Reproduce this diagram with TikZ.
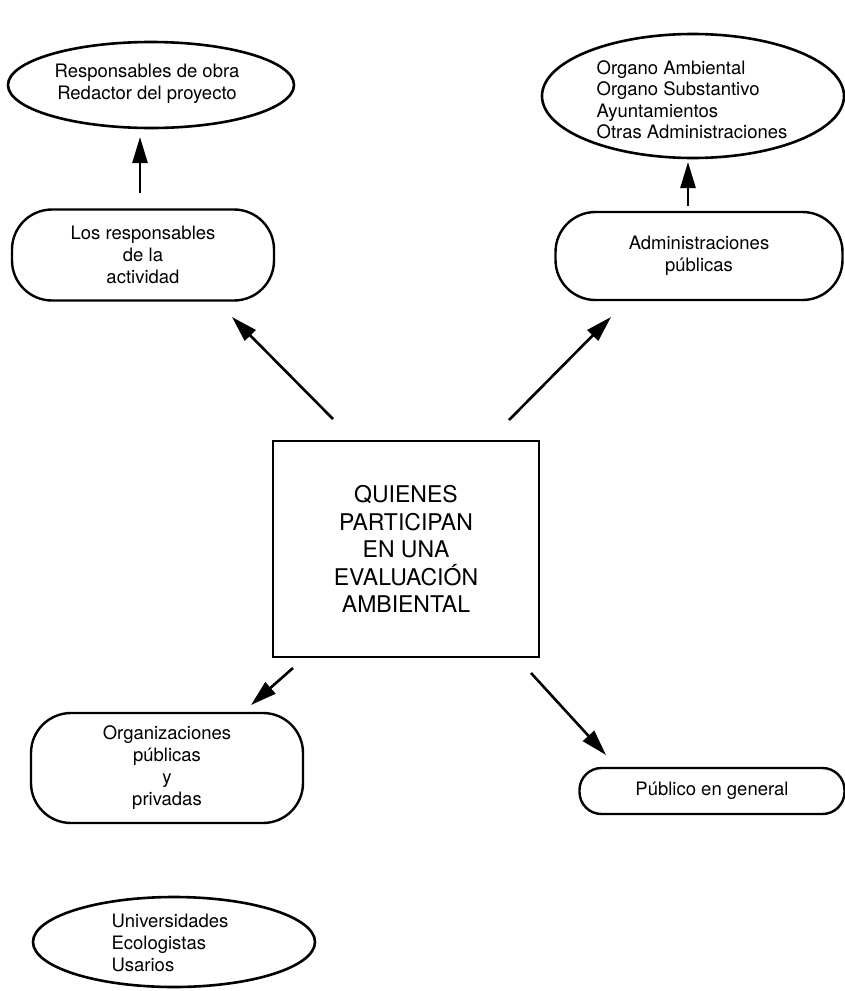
\documentclass[tikz,border=0pt]{standalone}
\usepackage{fontspec}
\setmainfont{TeX Gyre Heros}
\usetikzlibrary{arrows.meta,shapes.geometric}
\begin{document}
\begin{tikzpicture}[x=1pt,y=-1pt,
  every node/.style={font=\fontsize{18.5}{22}\selectfont, inner sep=0pt, align=center},
  oval/.style={ellipse, draw, line width=2.6pt},
  pill/.style={rectangle, draw, line width=2.4pt, rounded corners=#1},
  pill/.default=40pt,
  link/.style={line width=2.6pt, -{Triangle[length=26pt,width=15pt]}}]
\useasboundingbox (0,0) rectangle (845,991);

% central topic
\node[draw, line width=2.4pt, minimum width=266pt, minimum height=216pt,
      font=\fontsize{23}{27.5}\selectfont] (core) at (406,549)
  {QUIENES\\PARTICIPAN\\EN UNA\\EVALUACIÓN\\AMBIENTAL};

% participants
\node[pill, minimum width=262pt, minimum height=91pt] (resp) at (143,255)
  {Los responsables\\de la\\actividad};
\node[pill, minimum width=287pt, minimum height=88pt] (pub) at (699,256)
  {Administraciones\\públicas};
\node[pill, minimum width=272pt, minimum height=110pt] (orgs) at (167,768)
  {Organizaciones\\públicas\\y\\privadas};
\node[pill=22pt, minimum width=265pt, minimum height=46pt] (gen) at (712,791)
  {Público en general};

% details
\node[oval, minimum width=286pt, minimum height=86pt] (staff) at (151,85) {};
\node (staffText) at (147,84) {Responsables de obra\\Redactor del proyecto};
\node[oval, minimum width=302pt, minimum height=124pt] (admins) at (693,96) {};
\node[align=left, font=\fontsize{18.5}{21.5}\selectfont] (adminsText) at (692,100)
  {Organo Ambiental\\Organo Substantivo\\Ayuntamientos\\Otras Administraciones};
\node[oval, minimum width=282pt, minimum height=90pt] (civil) at (174,942) {};
\node[align=left, font=\fontsize{18.5}{22}\selectfont] (civilText) at (170,943)
  {Universidades\\Ecologistas\\Usarios};

% arrow end points
\coordinate (respFrom) at (140,193);  \coordinate (respTo) at (140,137);
\coordinate (pubFrom)  at (688,206);  \coordinate (pubTo)  at (688,162);
\coordinate (coreNW)   at (333,419);  \coordinate (toResp) at (232,317);
\coordinate (coreNE)   at (509,420);  \coordinate (toPub)  at (611,317);
\coordinate (coreSW)   at (293,668);  \coordinate (toOrgs) at (251,705);
\coordinate (coreSE)   at (531,673);  \coordinate (toGen)  at (606,755);

\draw[link] (respFrom) -- (respTo);
\draw[link] (pubFrom) -- (pubTo);
\draw[link] (coreNW) -- (toResp);
\draw[link] (coreNE) -- (toPub);
\draw[link] (coreSW) -- (toOrgs);
\draw[link] (coreSE) -- (toGen);
\end{tikzpicture}
\end{document}
